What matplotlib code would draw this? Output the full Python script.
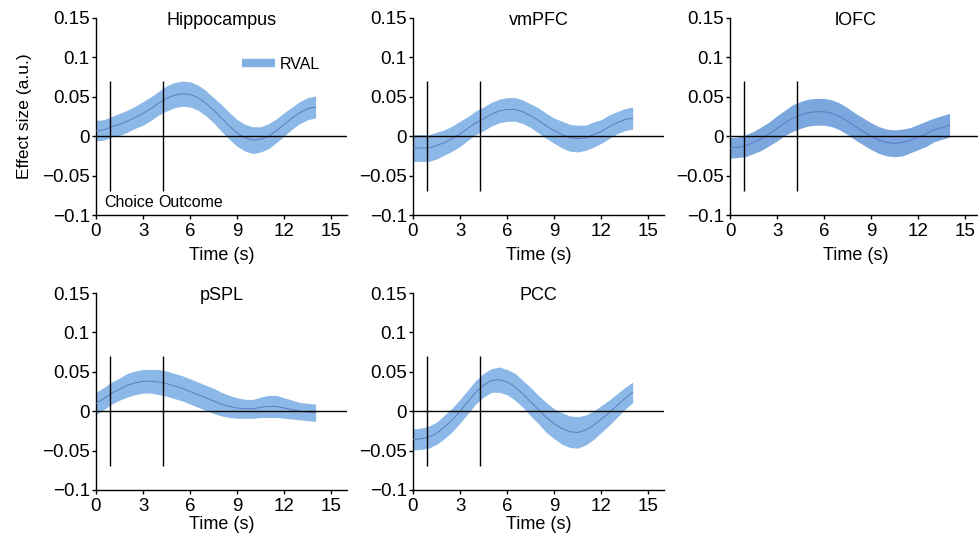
import numpy as np
import matplotlib
matplotlib.use("Agg")
import matplotlib.pyplot as plt
from matplotlib.lines import Line2D

plt.rcParams['font.family'] = ['Liberation Sans', 'DejaVu Sans']

time = [0, 0.5, 1, 1.5, 2, 2.5, 3, 3.5, 4, 4.5, 5, 5.5, 6, 6.5, 7, 7.5,
        8, 8.5, 9, 9.5, 10, 10.5, 11, 11.5, 12, 12.5, 13, 13.5, 14]

regions = ["Hippocampus", "vmPFC", "lOFC", "pSPL", "PCC"]

hippo_mean = [0.007, 0.008, 0.012, 0.015, 0.019, 0.024, 0.029, 0.035, 0.042, 0.048,
              0.052, 0.054, 0.053, 0.049, 0.042, 0.033, 0.023, 0.013, 0.004, -0.002,
              -0.005, -0.004, 0.000, 0.007, 0.015, 0.023, 0.030, 0.035, 0.037]
hippo_sem = [0.013, 0.013, 0.013, 0.014, 0.014, 0.014, 0.015, 0.015, 0.015, 0.016,
             0.016, 0.016, 0.016, 0.016, 0.016, 0.016, 0.017, 0.017, 0.017, 0.017,
             0.017, 0.016, 0.016, 0.015, 0.015, 0.014, 0.014, 0.014, 0.014]

vmpfc_mean = [-0.015, -0.015, -0.015, -0.012, -0.008, -0.003, 0.003, 0.010, 0.017, 0.022,
              0.028, 0.032, 0.034, 0.034, 0.031, 0.026, 0.020, 0.013, 0.007, 0.002,
              -0.002, -0.003, -0.002, 0.002, 0.006, 0.012, 0.017, 0.021, 0.023]
vmpfc_sem = [0.017, 0.017, 0.017, 0.017, 0.016, 0.016, 0.016, 0.015, 0.015, 0.015,
             0.015, 0.015, 0.015, 0.015, 0.015, 0.015, 0.016, 0.016, 0.016, 0.017,
             0.017, 0.017, 0.016, 0.016, 0.015, 0.015, 0.014, 0.014, 0.014]

lofc_mean = [-0.015, -0.014, -0.012, -0.008, -0.003, 0.003, 0.010, 0.017, 0.023, 0.027,
             0.030, 0.031, 0.031, 0.029, 0.025, 0.019, 0.012, 0.006, 0.000, -0.005,
             -0.008, -0.009, -0.008, -0.005, -0.001, 0.003, 0.008, 0.011, 0.014]
lofc_sem = [0.013, 0.013, 0.014, 0.014, 0.015, 0.015, 0.016, 0.016, 0.017, 0.017,
            0.017, 0.017, 0.017, 0.017, 0.017, 0.017, 0.017, 0.017, 0.017, 0.017,
            0.017, 0.017, 0.017, 0.016, 0.016, 0.016, 0.015, 0.015, 0.015]

pspl_mean = [0.010, 0.016, 0.023, 0.028, 0.033, 0.036, 0.038, 0.038, 0.037, 0.035,
             0.032, 0.029, 0.025, 0.021, 0.017, 0.013, 0.009, 0.006, 0.004, 0.003,
             0.003, 0.005, 0.006, 0.006, 0.004, 0.002, 0.000, -0.001, -0.002]
pspl_sem = [0.014, 0.014, 0.014, 0.014, 0.015, 0.015, 0.015, 0.015, 0.016, 0.016,
            0.016, 0.016, 0.016, 0.016, 0.016, 0.016, 0.015, 0.014, 0.013, 0.012,
            0.012, 0.013, 0.014, 0.014, 0.013, 0.012, 0.011, 0.011, 0.011]

pcc_mean = [-0.036, -0.035, -0.033, -0.028, -0.020, -0.011, 0.000, 0.012, 0.024, 0.033,
            0.039, 0.040, 0.037, 0.031, 0.022, 0.012, 0.002, -0.008, -0.016, -0.022,
            -0.026, -0.027, -0.024, -0.018, -0.010, -0.002, 0.007, 0.016, 0.024]
pcc_sem = [0.0135, 0.0135, 0.014, 0.014, 0.015, 0.015, 0.015, 0.015, 0.015, 0.015,
           0.015, 0.016, 0.016, 0.017, 0.017, 0.018, 0.018, 0.019, 0.019, 0.020,
           0.020, 0.020, 0.019, 0.018, 0.017, 0.016, 0.015, 0.014, 0.013]

means = [hippo_mean, vmpfc_mean, lofc_mean, pspl_mean, pcc_mean]
sems = [hippo_sem, vmpfc_sem, lofc_sem, pspl_sem, pcc_sem]

choice_t = 0.9
outcome_t = 4.3
xticks = [0, 3, 6, 9, 12, 15]
yticks = [-0.1, -0.05, 0, 0.05, 0.1, 0.15]
ytick_labels = ["\u22120.1", "\u22120.05", "0", "0.05", "0.1", "0.15"]

fill_colors = ['#8cb8e7', '#8cb8e7', '#7ba7de', '#8cb8e7', '#8cb8e7']
line_color = '#5a7cc0'

fig = plt.figure(figsize=(9.79, 5.36), dpi=100)
W, H = 979, 536
positions = [(96, 18), (413, 18), (730, 18), (96, 293), (413, 293)]
aw, ah = 251, 197

FS = 13.5
for i, (px, py) in enumerate(positions):
    ax = fig.add_axes([px / W, 1 - (py + ah) / H, aw / W, ah / H])
    t = np.array(time)
    m = np.array(means[i])
    s = np.array(sems[i])
    ax.fill_between(t, m - s, m + s, color=fill_colors[i], lw=0, zorder=2)
    ax.plot(t, m, color=line_color, lw=0.7, zorder=3)
    ax.axhline(0, color='black', lw=1, zorder=4)
    ax.vlines([choice_t, outcome_t], -0.07, 0.07, color='black', lw=1, zorder=4)
    ax.set_xlim(0, 16)
    ax.set_ylim(-0.1, 0.15)
    ax.set_xticks(xticks)
    ax.set_yticks(yticks)
    ax.set_yticklabels(ytick_labels)
    ax.tick_params(labelsize=FS, length=3, width=1, direction='out')
    ax.tick_params(axis='x', pad=3)
    ax.tick_params(axis='y', pad=1.5)
    for sp in ['top', 'right']:
        ax.spines[sp].set_visible(False)
    for sp in ['left', 'bottom']:
        ax.spines[sp].set_linewidth(1)
    ax.set_xlabel("Time (s)", fontsize=13, labelpad=5 if i < 3 else 0.5)
    ax.text(0.5, 0.985, regions[i], transform=ax.transAxes, ha='center', va='center',
            fontsize=13)
    if i == 0:
        ax.set_ylabel("Effect size (a.u.)", fontsize=12.5, labelpad=7)
        ax.text(0.5, -0.084, "Choice", ha='left', va='center', fontsize=11.5)
        ax.text(4.0, -0.084, "Outcome", ha='left', va='center', fontsize=11.5)
        h = Line2D([], [], color='#80b0e2', lw=6, solid_capstyle='butt')
        ax.legend([h], ["RVAL"], loc='center left', bbox_to_anchor=(9.3, 0.0915),
                  bbox_transform=ax.transData, frameon=False, borderpad=0,
                  borderaxespad=0, handlelength=2.1, handletextpad=0.3,
                  fontsize=11.5)

fig.savefig("out.png", dpi=100)
